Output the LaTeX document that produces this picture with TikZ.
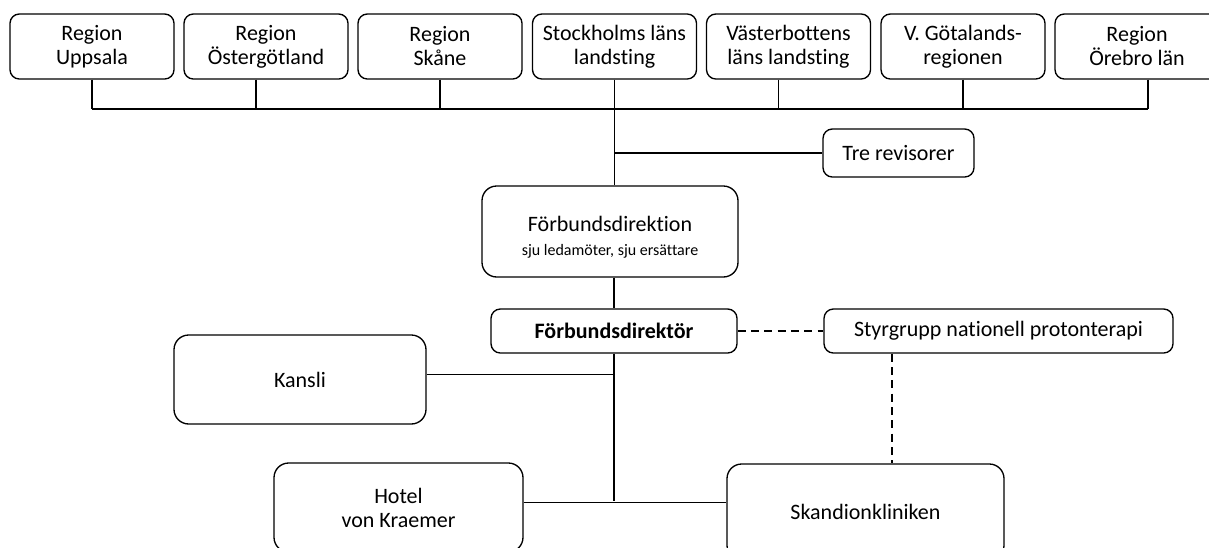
\documentclass[tikz,border=0pt]{standalone}
\usepackage{fontspec}
\setmainfont{Carlito}[Ligatures=NoCommon]

\begin{document}
\begin{tikzpicture}[
  x=0.75pt, y=-0.75pt,
  box/.style       = {draw, line width=1pt, rounded corners=7pt, inner sep=0pt,
                      align=center, font=\fontsize{16.5}{18}\selectfont},
  region/.style    = {box, minimum width=123pt, minimum height=48.75pt},
  bigbox/.style    = {box, rounded corners=11pt},
  link/.style      = {line width=1pt},
  dotlink/.style   = {line width=1pt, dash pattern=on 6pt off 4pt},
]
  \useasboundingbox (0,0) rectangle (1209,547);

  % the seven owners
  \node[region] (upp) at (92,46.5)    {Region\\Uppsala};
  \node[region] (ost) at (266,46.5)   {Region\\Östergötland};
  \node[region] (ska) at (440,46.5)   {Region\\Skåne};
  \node[region] (sto) at (614.5,46.5) {Stockholms läns\\landsting};
  \node[region] (vab) at (788.5,46.5) {Västerbottens\\läns landsting};
  \node[region] (vgr) at (963,46.5)   {V. Götalands-\\regionen};
  \node[region] (ore) at (1137,46.5)  {Region\\Örebro län};

  \node[box, minimum width=113.25pt, minimum height=36pt] (rev) at (898.5,153) {Tre revisorer};
  \node[bigbox, minimum width=192pt, minimum height=68.25pt] (dir) at (610,231.5)
    {\rule{0pt}{20pt}Förbundsdirektion\\[0pt]{\fontsize{12}{14}\selectfont sju ledamöter, sju ersättare}};
  \node[box, minimum width=184.5pt, minimum height=33pt, font=\fontsize{16.5}{18}\selectfont\bfseries]
    (fd) at (614,331) {Förbundsdirektör};
  \node[box, minimum width=261.75pt, minimum height=33pt] (sty) at (998.5,331) {Styrgrupp nationell protonterapi};
  \node[bigbox, minimum width=189pt, minimum height=66.75pt] (kan) at (300,379.5) {Kansli};
  \node[bigbox, minimum width=186.75pt, minimum height=66.75pt] (hot) at (398.5,507.5) {Hotel\\von Kraemer};
  \node[bigbox, minimum width=207.75pt, minimum height=72pt] (sko) at (865.5,512) {Skandionkliniken};

  \coordinate (bus) at (614,109);
  \coordinate (foot) at (614,501);

  % owners onto the bus
  \draw[link] (upp.south) -- (upp.south |- bus);
  \draw[link] ([xshift=-7.5pt]ost.south) -- ([xshift=-7.5pt]ost.south |- bus);
  \draw[link] (ska.south) -- (ska.south |- bus);
  \draw[link] ([xshift=-7.5pt]vab.south) -- ([xshift=-7.5pt]vab.south |- bus);
  \draw[link] (vgr.south) -- (vgr.south |- bus);
  \draw[link] ([xshift=8.25pt]ore.south) -- ([xshift=8.25pt]ore.south |- bus);
  \draw[link] (upp.south |- bus) -- ([xshift=8.25pt]ore.south |- bus);

  \draw[link] (sto.south) -- (sto.south |- dir.north);
  \draw[link] (bus |- rev.west) -- (rev.west);
  \draw[link] (fd.north |- dir.south) -- (fd.north);
  \draw[link] (fd.south) -- (foot);
  \draw[link] ([yshift=4pt]kan.east) -- ([yshift=4pt]kan.east -| foot);
  \draw[link] ([yshift=4pt]hot.east) -- ([yshift=4pt]hot.east -| sko.west);

  \draw[dotlink] (fd.east) -- (sty.west);
  \draw[dotlink] ([xshift=-80pt]sty.south) -- ([xshift=-80pt]sty.south |- sko.north);
\end{tikzpicture}
\end{document}
